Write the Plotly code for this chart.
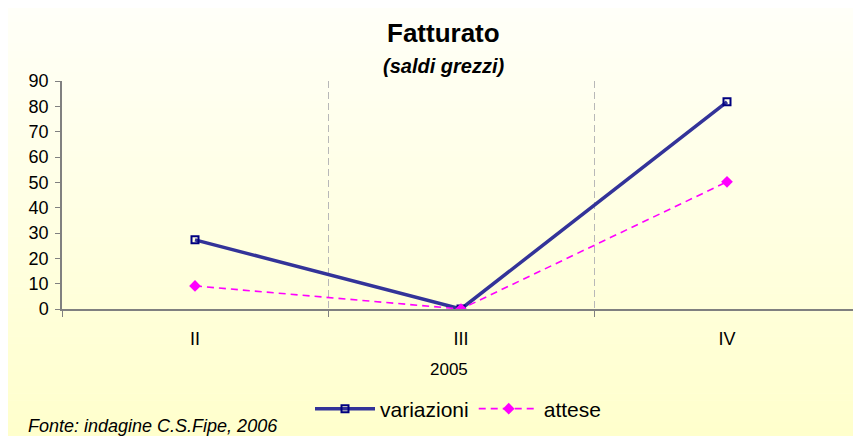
import plotly.graph_objects as go

categories = ["II", "III", "IV"]
variazioni = [27.3, 0.0, 81.8]
attese = [9.1, 0.0, 50.2]
y_ticks = [0, 10, 20, 30, 40, 50, 60, 70, 80, 90]

OFF = 8  # page body margin
W, H = 861 - OFF, 436 - OFF
# plot area in screenshot pixels
PX0, PX1, PY0, PY1 = 62, 860, 81, 309
L, R, T, B = PX0 - OFF, W - (PX1 - OFF), PY0 - OFF, H - (PY1 - OFF)
pw, ph = PX1 - PX0, PY1 - PY0

def px_x(p):
    return (p - PX0) / pw

def px_y(p):
    return (PY1 - p) / ph

xs = list(range(len(categories)))

fig = go.Figure()
fig.add_trace(go.Scatter(
    x=xs, y=variazioni, name="variazioni", mode="lines+markers",
    line=dict(color="#333399", width=3.5),
    marker=dict(symbol="square-open", size=7, color="#000080", line=dict(width=2, color="#000080")),
))
fig.add_trace(go.Scatter(
    x=xs, y=attese, name="attese", mode="lines+markers",
    line=dict(color="#FF00FF", width=1.6, dash="7px,5px"),
    marker=dict(symbol="diamond", size=9, color="#FF00FF"),
))

# background gradient strips over the whole figure
shapes = []
top, bottom = OFF, 436
n = 60
c0 = (255, 255, 248)
c1 = (255, 255, 204)
for i in range(n):
    y0p = top + (bottom - top) * i / n
    y1p = top + (bottom - top) * (i + 1) / n
    t = (i + 0.5) / n
    col = tuple(round(c0[k] + (c1[k] - c0[k]) * t) for k in range(3))
    shapes.append(dict(type="rect", xref="paper", yref="paper",
                       x0=px_x(OFF - 1), x1=px_x(870), y0=px_y(y1p + 0.5), y1=px_y(y0p),
                       fillcolor="rgb(%d,%d,%d)" % col, line=dict(width=0), layer="below"))
# dashed grid line at the right edge of the plot area
shapes.append(dict(type="line", xref="paper", yref="paper", x0=px_x(859), x1=px_x(859), y0=0, y1=1,
                   line=dict(color="#B8B8B8", width=1.5, dash="7px,4px"), layer="below"))

font = "Liberation Sans, Arial, sans-serif"
fig.update_layout(
    width=W, height=H,
    margin=dict(l=L, r=R, t=T, b=B, pad=0, autoexpand=False),
    paper_bgcolor="#FFFFF8", plot_bgcolor="rgba(0,0,0,0)",
    shapes=shapes,
    showlegend=True,
    legend=dict(orientation="h", x=px_x(458), y=px_y(409), xanchor="center", yanchor="middle",
                font=dict(family=font, size=21, color="black"), bgcolor="rgba(0,0,0,0)",
                itemwidth=60, tracegroupgap=0),
    font=dict(family=font, color="black"),
    xaxis=dict(
        range=[-0.5, 2.5], tickmode="array", tickvals=xs, ticktext=categories,
        ticks="", showgrid=False, zeroline=False,
        showline=True, linecolor="#808080", linewidth=1.5,
        tickfont=dict(family=font, size=18, color="black"),
        ticklabelstandoff=13,
        minor=dict(tickmode="array", tickvals=[-0.5, 0.5, 1.5, 2.5], ticks="outside", ticklen=6,
                   tickcolor="#808080", tickwidth=1, showgrid=True, gridcolor="#B8B8B8",
                   griddash="7px,4px", gridwidth=1),
        fixedrange=True,
    ),
    yaxis=dict(
        range=[0, 90], tickmode="array", tickvals=y_ticks, ticks="outside", ticklen=5,
        tickcolor="#808080", showgrid=False, zeroline=False,
        showline=True, linecolor="#808080", linewidth=1.5,
        tickfont=dict(family=font, size=18, color="black"),
        ticklabelstandoff=3,
        fixedrange=True,
    ),
    annotations=[
        dict(text="<b>Fatturato</b>", x=px_x(443), y=px_y(33), xref="paper", yref="paper",
             showarrow=False, font=dict(family=font, size=26, color="black"), xanchor="center", yanchor="middle"),
        dict(text="<b><i>(saldi grezzi)</i></b>", x=px_x(443), y=px_y(66), xref="paper", yref="paper",
             showarrow=False, font=dict(family=font, size=20, color="black"), xanchor="center", yanchor="middle"),
        dict(text="2005", x=px_x(449), y=px_y(369), xref="paper", yref="paper",
             showarrow=False, font=dict(family=font, size=17, color="black"), xanchor="center", yanchor="middle"),
        dict(text="<i>Fonte: indagine C.S.Fipe, 2006</i>", x=px_x(26), y=px_y(426), xref="paper", yref="paper",
             showarrow=False, font=dict(family=font, size=18, color="black"), xanchor="left", yanchor="middle"),
    ],
)

fig.write_html("out.html")
